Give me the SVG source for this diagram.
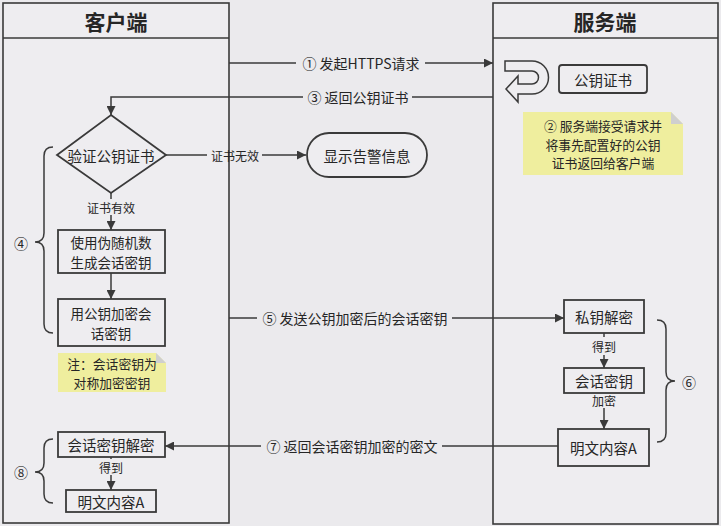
<svg xmlns="http://www.w3.org/2000/svg" width="721" height="526" viewBox="0 0 721 526">
<defs>
<marker id="ah" viewBox="0 0 10 10" refX="10" refY="5" markerWidth="10" markerHeight="9" markerUnits="userSpaceOnUse" orient="auto">
<path d="M0,0 L10,5 L0,10 Z" fill="#3a3a3a"/>
</marker>
</defs>
<style>
text{font-family:"Noto Sans CJK SC","Liberation Sans",sans-serif;fill:#262626;text-anchor:middle;dominant-baseline:central}
.lane{fill:#eeedf0;stroke:#3a3a3a;stroke-width:1.6}
.box{fill:#eeedf0;stroke:#3a3a3a;stroke-width:1.8}
.ln{fill:none;stroke:#3a3a3a;stroke-width:1.5}
.br{fill:none;stroke:#3a3a3a;stroke-width:1.5}
.note{fill:#efee9e}
.fold{fill:#cfcfcf}
.t{font-size:14.5px}
.t2{font-size:13.5px}
.ttl{font-size:21px;font-weight:bold}
.lb{font-size:14px}
.sm{font-size:12px}
.nt{font-size:12.8px}
</style>
<rect width="721" height="526" fill="#ebeaed"/>

<g id="lane-client">
<rect class="lane" x="3" y="3" width="226" height="520"/>
<line class="ln" x1="3" y1="38" x2="229" y2="38"/>
<text class="ttl" x="116" y="21">客户端</text>
</g>
<g id="lane-server">
<rect class="lane" x="493" y="3" width="225" height="521"/>
<line class="ln" x1="493" y1="38" x2="718" y2="38"/>
<text class="ttl" x="605" y="21">服务端</text>
</g>

<g id="connectors">
<line class="ln" x1="229" y1="63" x2="296" y2="63"/>
<line class="ln" x1="425" y1="63" x2="493" y2="63" marker-end="url(#ah)"/>
<text class="lb" x="361" y="63">① 发起HTTPS请求</text>

<line class="ln" x1="493" y1="97" x2="412" y2="97"/>
<polyline class="ln" points="303,97 111,97 111,115" marker-end="url(#ah)"/>
<text class="lb" x="358" y="97">③ 返回公钥证书</text>

<line class="ln" x1="166" y1="155" x2="207" y2="155"/>
<line class="ln" x1="262" y1="155" x2="306" y2="155" marker-end="url(#ah)"/>
<text class="sm" x="235" y="155">证书无效</text>

<line class="ln" x1="111" y1="193" x2="111" y2="199"/>
<line class="ln" x1="111" y1="215" x2="111" y2="230" marker-end="url(#ah)"/>
<text class="sm" x="111" y="207">证书有效</text>

<line class="ln" x1="111" y1="273" x2="111" y2="299" marker-end="url(#ah)"/>

<line class="ln" x1="229" y1="318" x2="257" y2="318"/>
<line class="ln" x1="452" y1="318" x2="564" y2="318" marker-end="url(#ah)"/>
<text class="lb" x="355" y="318">⑤ 发送公钥加密后的会话密钥</text>

<line class="ln" x1="604" y1="333" x2="604" y2="337"/>
<line class="ln" x1="604" y1="355" x2="604" y2="368" marker-end="url(#ah)"/>
<text class="sm" x="604" y="346">得到</text>

<line class="ln" x1="604" y1="408" x2="604" y2="429" marker-end="url(#ah)"/>
<text class="sm" x="604" y="400">加密</text>

<line class="ln" x1="558" y1="446" x2="442" y2="446"/>
<line class="ln" x1="261" y1="446" x2="165" y2="446" marker-end="url(#ah)"/>
<text class="lb" x="352" y="446">⑦ 返回会话密钥加密的密文</text>

<line class="ln" x1="111" y1="457" x2="111" y2="459"/>
<line class="ln" x1="111" y1="475" x2="111" y2="490" marker-end="url(#ah)"/>
<text class="sm" x="111" y="467">得到</text>
</g>

<g id="uturn">
<path class="ln" d="M505,61 H532 A16.5,16.5 0 0 1 532,94 H518 V102 L506,89 L518,76 V84 H532 A6.5,6.5 0 0 0 532,71 H505 Z" stroke-width="1.6"/>
</g>

<g id="pubcert">
<rect class="box" x="559" y="65" width="88" height="28" rx="3"/>
<text class="t" x="603" y="79">公钥证书</text>
</g>

<g id="note-server">
<path class="note" d="M523,112 H671 L683,124 V175 H523 Z"/>
<path class="fold" d="M671,112 L683,124 H671 Z"/>
<text class="nt" x="603" y="125.5">② 服务端接受请求并</text>
<text class="nt" x="603" y="144">将事先配置好的公钥</text>
<text class="nt" x="603" y="162.5">证书返回给客户端</text>
</g>

<g id="verify">
<path class="box" d="M111,115 L166,155 L111,193 L57,155 Z"/>
<text class="t" x="111" y="155">验证公钥证书</text>
</g>

<g id="warn">
<rect class="box" x="307" y="133" width="120" height="44" rx="22"/>
<text class="t" x="367" y="155">显示告警信息</text>
</g>

<g id="genkey">
<rect class="box" x="58" y="230" width="107" height="43"/>
<text class="t2" x="111" y="241.5">使用伪随机数</text>
<text class="t2" x="111" y="261.5">生成会话密钥</text>
</g>

<g id="enckey">
<rect class="box" x="58" y="299" width="107" height="47"/>
<text class="t2" x="111" y="312.5">用公钥加密会</text>
<text class="t2" x="111" y="332.5">话密钥</text>
</g>

<g id="note-client">
<path class="note" d="M58,353 H156 L166,363 V392 H58 Z"/>
<path class="fold" d="M156,353 L166,363 H156 Z"/>
<text class="nt" x="112" y="363.5">注：会话密钥为</text>
<text class="nt" x="112" y="382.5">对称加密密钥</text>
</g>

<g id="brace4">
<path class="br" d="M53,147 Q44,147 44,156 V233 Q44,242 35,242 Q44,242 44,251 V324 Q44,333 53,333"/>
<text class="lb" x="21" y="243">④</text>
</g>

<g id="privdec">
<rect class="box" x="564" y="300" width="80" height="33"/>
<text class="t" x="604" y="316.5">私钥解密</text>
</g>

<g id="sesskey">
<rect class="box" x="564" y="368" width="80" height="25"/>
<text class="t" x="604" y="380.5">会话密钥</text>
</g>

<g id="plainA-server">
<rect class="box" x="558" y="429" width="91" height="37"/>
<text class="t" x="603.5" y="447.5">明文内容A</text>
</g>

<g id="brace6">
<path class="br" d="M657,320 Q666,320 666,329 V372 Q666,381 675,381 Q666,381 666,390 V433 Q666,442 657,442"/>
<text class="lb" x="689" y="382">⑥</text>
</g>

<g id="sessdec">
<rect class="box" x="58" y="432" width="107" height="25"/>
<text class="t" x="111" y="444.5">会话密钥解密</text>
</g>

<g id="plainA-client">
<rect class="box" x="66" y="490" width="90" height="22"/>
<text class="t" x="111" y="501">明文内容A</text>
</g>

<g id="brace8">
<path class="br" d="M53,439 Q44,439 44,448 V463 Q44,472 35,472 Q44,472 44,481 V494 Q44,503 53,503"/>
<text class="lb" x="21" y="472">⑧</text>
</g>
</svg>
